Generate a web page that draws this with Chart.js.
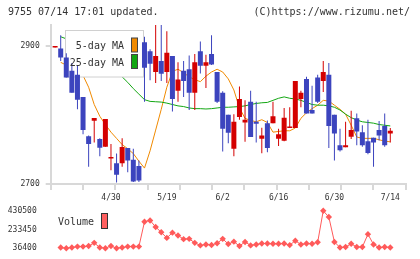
<!DOCTYPE html>
<html lang="ja">
<head>
<meta charset="UTF-8">
<title>9755 chart</title>
<script src="https://cdn.jsdelivr.net/npm/chart.js"></script>
<style>
  body { margin: 0; background: #fff; font-family: "DejaVu Sans Mono", monospace; color: #333; }
  #wrap { position: relative; width: 420px; height: 259px; overflow: hidden; }
  .txt { position: absolute; font-size: 10px; line-height: 12px; white-space: pre; }
  #priceChart { position: absolute; left: 0; top: 0; }
  #volChart { position: absolute; left: 0; top: 200px; }
  #volSwatch { position: absolute; left: 101px; top: 213px; width: 5px; height: 14px; background: #ff6060; border: 1px solid #333; }
</style>
</head>
<body>
<div id="wrap">
  <canvas id="priceChart" width="420" height="205"></canvas>
  <canvas id="volChart" width="420" height="59"></canvas>
  <div class="txt" style="left:8px; top:6px;">9755 07/14 17:01 updated.</div>
  <div class="txt" style="right:10px; top:6px;">(C)https://www.rizumu.net/</div>
  <div class="txt" style="right:296px; top:40px;">5-day MA</div>
  <div class="txt" style="right:296px; top:57px;">25-day MA</div>
  <div class="txt" style="left:58px; top:216px;">Volume</div>
  <div id="volSwatch"></div>
</div>

<script>
// daily candles, oldest first (index 0 is the day before the volume window)
const opens  = [2897.5, 2896, 2883, 2864, 2858, 2826, 2769, 2791.5, 2765, 2754,
                2737, 2730, 2730, 2752, 2735, 2726, 2905, 2892, 2862, 2878,
                2862, 2885, 2835, 2864, 2866, 2832, 2892, 2871, 2888, 2862,
                2832, 2800, 2751, 2797, 2789, 2819, 2790, 2765.5, 2788, 2788,
                2765.5, 2762.6, 2781, 2781, 2823, 2852, 2807, 2854, 2849, 2858,
                2800, 2756, 2753, 2768.5, 2795, 2775, 2762, 2767, 2778, 2784,
                2773];
const highs  = [2899, 2915, 2889, 2875, 2872, 2826, 2770, 2795.5, 2766, 2794,
                2758, 2744, 2766, 2752, 2751, 2734, 2913, 2895, 2930, 2930,
                2921, 2885, 2876, 2878, 2886, 2888, 2906, 2887, 2915, 2862,
                2834, 2800, 2801, 2841, 2821, 2835, 2819, 2781.5, 2792, 2819,
                2780, 2810, 2811, 2849, 2835, 2855, 2842, 2858, 2878, 2875,
                2800, 2780, 2790, 2806, 2802, 2785, 2793, 2767, 2791, 2802,
                2781];
const lows   = [2897.5, 2878, 2854, 2832, 2808, 2772, 2725, 2760, 2740, 2754,
                2720, 2702, 2725, 2717, 2703, 2703, 2819, 2850, 2846, 2849,
                2846, 2805, 2819, 2826, 2807, 2807, 2860, 2839, 2872, 2817,
                2747, 2759, 2740, 2793, 2761, 2768, 2760, 2744.5, 2746, 2788,
                2755, 2762, 2781, 2781, 2811, 2802, 2802, 2817, 2833, 2752,
                2734, 2747, 2753, 2765, 2756, 2754, 2743, 2725, 2763, 2754,
                2760];
const closes = [2899, 2883, 2854, 2832, 2822, 2778, 2758, 2795.5, 2752.5, 2794,
                2738.5, 2713.5, 2753.5, 2734, 2703.5, 2705, 2868, 2874, 2885, 2859.5,
                2890, 2823, 2851, 2849, 2832, 2876, 2871, 2876, 2873, 2819,
                2780, 2774, 2790, 2823, 2793, 2768, 2787, 2770, 2752, 2798,
                2772, 2796, 2783, 2849, 2832, 2802, 2802, 2819, 2862, 2784,
                2773, 2749, 2756, 2778, 2776, 2756, 2745, 2760, 2770, 2756,
                2777];

const ma5  = [null, 2876, 2872, 2866, 2862, 2857, 2840, 2815, 2798, 2786,
              2775, 2766, 2757, 2751, 2744, 2733, 2723, 2748, 2778, 2808,
              2840, 2863, 2866, 2861, 2855, 2851, 2848, 2856, 2862, 2866,
              2862, 2852, 2836, 2810, 2795, 2792, 2790, 2793, 2789, 2775,
              2776, 2777, 2777, 2781, 2795, 2803, 2809, 2814, 2821, 2820,
              2814, 2808, 2801, 2785, 2768, 2766, 2766, 2766, 2764, 2762,
              2761];
const ma25 = [null, 2913, 2910, 2906, 2902, 2897, 2891, 2885, 2879, 2873,
              2867, 2861, 2855, 2847, 2838, 2830, 2822, 2819.5, 2819, 2818.5,
              2817, 2815, 2813, 2812, 2810, 2809, 2809, 2808.5, 2809, 2810,
              2811, 2811, 2811.5, 2812, 2813, 2815, 2816.5, 2817.5, 2818, 2821,
              2824, 2826, 2824, 2823, 2821, 2818, 2815, 2814, 2814, 2813,
              2811, 2807, 2801, 2796, 2792.5, 2790, 2789, 2788, 2786, 2785,
              2784];

// volume starts at candle index 1
const volumes = [43300, 36400, 43300, 53100, 53100, 59000, 92600, 43300, 36400, 59000,
                 36400, 43300, 53100, 53100, 53100, 315000, 329000, 260000, 204000, 145000,
                 200000, 170000, 132000, 135000, 92600, 66000, 75800, 70000, 88000, 134900,
                 80000, 105400, 59000, 102400, 66000, 75800, 85700, 85700, 82700, 82700,
                 85700, 68900, 115200, 75800, 85700, 82700, 98500, 430500, 364500, 102400,
                 43300, 49200, 82700, 49200, 49200, 184200, 75800, 43300, 49200, 43300];

const dateTickIdx    = [10, 20, 30, 40, 50, 60];
const dateTickLabels = ['4/30', '5/19', '6/2', '6/16', '6/30', '7/14'];
const priceTicks = [2700, 2900];
const volTicks   = [36400, 233450, 430500];

const UP = '#d40000', DOWN = '#3c44be';
const ORANGE = '#f08a00', GREEN = '#12a612';
const AXIS = '#d8d8d8';
const tickFont = { family: 'DejaVu Sans Mono', size: 8 };

const xMin = -0.79, xMax = 62.76;
const candleColors = closes.map((c, i) => c >= opens[i] ? UP : DOWN);

// uniform tick marks along the bottom axis plus the labelled dates
function buildXTicks(scale) {
    const marks = Array.from({ length: 12 }, (_, k) => ({ value: xMin + k * (xMax - xMin) / 11 }));
    const dates = dateTickIdx.map(v => ({ value: v }));
    scale.ticks = marks.concat(dates).sort((a, b) => a.value - b.value);
}

// legend box sits above the MA lines but below the candles
const legendBox = {
    id: 'legendBox',
    afterDatasetDraw(chart, args) {
        if (args.index !== 1) return;
        const ctx = chart.ctx;
        ctx.save();
        ctx.fillStyle = '#fff';
        ctx.strokeStyle = '#d0d0d0';
        ctx.lineWidth = 1;
        ctx.fillRect(65.5, 30, 78, 47);
        ctx.strokeRect(65.5, 30.5, 78, 46.5);
        ctx.strokeStyle = '#444';
        ctx.fillStyle = ORANGE;
        ctx.fillRect(131.5, 38, 6, 14);
        ctx.strokeRect(131.5, 38, 6, 14);
        ctx.fillStyle = GREEN;
        ctx.fillRect(131.5, 54.5, 6, 14);
        ctx.strokeRect(131.5, 54.5, 6, 14);
        ctx.restore();
    }
};

new Chart(document.getElementById('priceChart'), {
    type: 'bar',
    data: {
        datasets: [
            {
                type: 'line', label: '5-day MA', xAxisID: 'xb',
                data: ma5.map((v, i) => ({ x: i, y: v })),
                borderColor: ORANGE, borderWidth: 1, pointRadius: 0, order: 4
            },
            {
                type: 'line', label: '25-day MA', xAxisID: 'xb',
                data: ma25.map((v, i) => ({ x: i, y: v })),
                borderColor: GREEN, borderWidth: 1, pointRadius: 0, order: 3
            },
            {
                label: 'wick', xAxisID: 'xb',
                data: highs.map((h, i) => ({ x: i, y: [lows[i], h] })),
                backgroundColor: candleColors, maxBarThickness: 1,
                grouped: false, order: 2
            },
            {
                label: 'body', xAxisID: 'xb',
                data: opens.map((o, i) => ({ x: i, y: [o, closes[i]] })),
                backgroundColor: candleColors, barPercentage: 1, categoryPercentage: 0.9,
                maxBarThickness: 5, minBarLength: 1.5, grouped: false, order: 1
            }
        ]
    },
    options: {
        responsive: false,
        animation: false,
        layout: { padding: { top: 25, right: 14.3, left: 0, bottom: 0 } },
        plugins: { legend: { display: false }, tooltip: { enabled: false } },
        scales: {
            xb: {
                type: 'linear', min: xMin, max: xMax, offset: false, display: false,
                afterBuildTicks: s => { s.ticks = [{ value: xMin }, { value: xMax }]; }
            },
            x: {
                type: 'linear', min: xMin, max: xMax, offset: false,
                afterBuildTicks: buildXTicks,
                grid: {
                    drawOnChartArea: false, tickLength: 6, lineWidth: 2, offset: false,
                    color: c => dateTickIdx.includes(c.tick && c.tick.value) ? 'rgba(0,0,0,0)' : AXIS
                },
                border: { color: AXIS, width: 2 },
                ticks: {
                    callback: v => {
                        const k = dateTickIdx.indexOf(v);
                        return k >= 0 ? dateTickLabels[k] : '';
                    },
                    font: tickFont, color: '#333', padding: 3,
                    maxRotation: 0, autoSkip: false
                },
                afterFit: s => { s.height = 21; }
            },
            y: {
                min: 2700, max: 2930, beginAtZero: false,
                afterBuildTicks: s => { s.ticks = priceTicks.map(v => ({ value: v })); },
                grid: { drawOnChartArea: false, tickLength: 5, color: AXIS, lineWidth: 2 },
                border: { color: AXIS, width: 2 },
                ticks: { font: tickFont, color: '#333', padding: 6, callback: v => String(v) },
                afterFit: s => { s.width = 50.7; }
            }
        }
    },
    plugins: [legendBox]
});

new Chart(document.getElementById('volChart'), {
    type: 'line',
    data: {
        datasets: [{
            label: 'Volume',
            data: volumes.map((v, k) => ({ x: k + 1, y: v })),
            borderColor: '#ff5a5a', backgroundColor: '#ff5a5a',
            borderWidth: 1, pointStyle: 'rectRot', pointRadius: 3.2,
            pointBorderWidth: 0, clip: false
        }]
    },
    options: {
        responsive: false,
        animation: false,
        layout: { padding: { top: 9, right: 14.3, left: 0, bottom: 10 } },
        plugins: { legend: { display: false }, tooltip: { enabled: false } },
        scales: {
            x: { type: 'linear', min: xMin, max: xMax, display: false },
            y: {
                min: 36400, max: 430500,
                afterBuildTicks: s => { s.ticks = volTicks.map(v => ({ value: v })); },
                grid: { display: false }, border: { display: false },
                ticks: { font: tickFont, color: '#333', padding: 6, callback: v => String(v) },
                afterFit: s => { s.width = 50.7; }
            }
        }
    }
});
</script>
</body>
</html>
